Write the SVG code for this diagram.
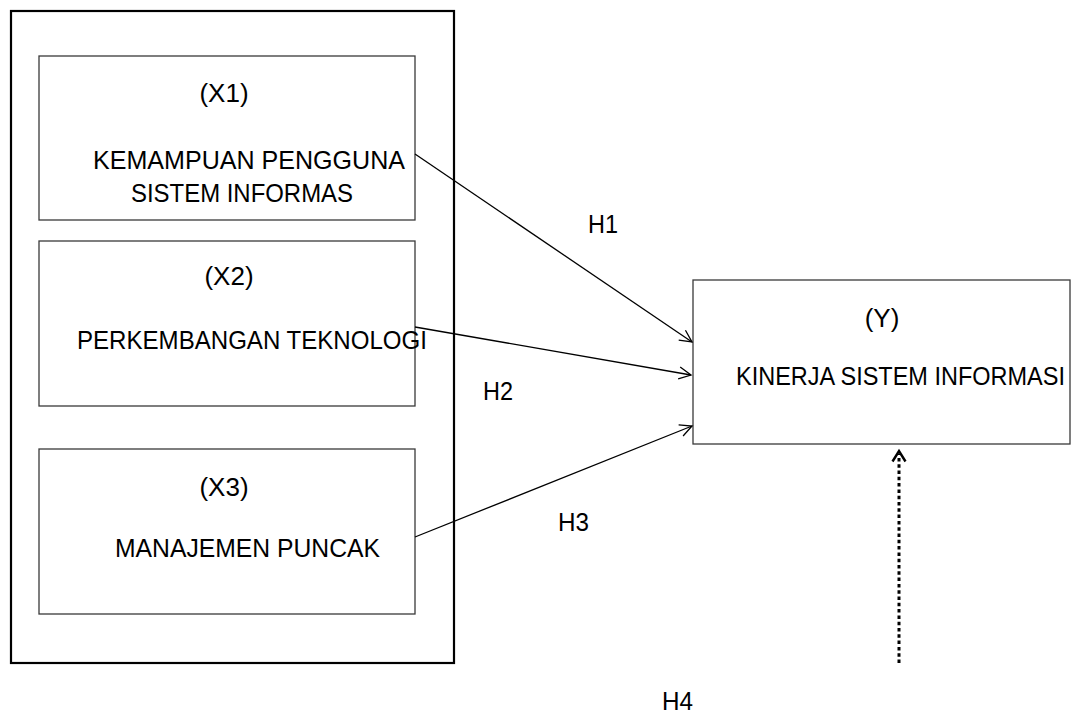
<svg xmlns="http://www.w3.org/2000/svg" width="1076" height="718" viewBox="0 0 1076 718">
<style>
text{font-family:"Liberation Sans",Arial,sans-serif;font-size:26px;fill:#000}
.box{fill:#fff;stroke:#3a3a3a;stroke-width:1.3}
.outer{fill:none;stroke:#000;stroke-width:2.2}
.conn{stroke:#000;stroke-width:1.3;fill:none}
.dot{stroke:#000;stroke-width:3;fill:none;stroke-dasharray:3.5 2.8}
</style>
<defs>
<marker id="arr" markerUnits="userSpaceOnUse" markerWidth="16" markerHeight="16" refX="13" refY="7" orient="auto" viewBox="0 0 16 14">
<path d="M1,1 L13,7 L1,13" fill="none" stroke="#000" stroke-width="1.3"/>
</marker>
<marker id="arr2" markerUnits="userSpaceOnUse" markerWidth="18" markerHeight="18" refX="12" refY="8" orient="auto" viewBox="0 0 18 16">
<path d="M1.5,1.5 L12,8 L1.5,14.5" fill="none" stroke="#000" stroke-width="2.4"/>
</marker>
</defs>
<rect width="1076" height="718" fill="#fff"/>
<g id="outer-group">
<rect class="outer" x="11" y="11" width="443" height="652"/>
</g>
<g id="node-x1">
<rect class="box" x="39" y="56" width="376" height="164"/>
<text x="224" y="102" text-anchor="middle">(X1)</text>
<text x="93" y="169" textLength="312" lengthAdjust="spacingAndGlyphs">KEMAMPUAN PENGGUNA</text>
<text x="131" y="202" textLength="222" lengthAdjust="spacingAndGlyphs">SISTEM INFORMAS</text>
</g>
<g id="node-x2">
<rect class="box" x="39" y="241" width="376" height="165"/>
<text x="229" y="285" text-anchor="middle">(X2)</text>
<text x="77" y="349" textLength="350" lengthAdjust="spacingAndGlyphs">PERKEMBANGAN TEKNOLOGI</text>
</g>
<g id="node-x3">
<rect class="box" x="39" y="449" width="376" height="165"/>
<text x="224" y="496" text-anchor="middle">(X3)</text>
<text x="115" y="557" textLength="265" lengthAdjust="spacingAndGlyphs">MANAJEMEN PUNCAK</text>
</g>
<g id="node-y">
<rect class="box" x="693" y="280" width="377" height="164"/>
<text x="882" y="327" text-anchor="middle">(Y)</text>
<text x="736" y="385" textLength="329" lengthAdjust="spacingAndGlyphs">KINERJA SISTEM INFORMASI</text>
</g>
<g id="connectors">
<line class="conn" x1="415" y1="154" x2="692" y2="342" marker-end="url(#arr)"/>
<line class="conn" x1="415" y1="327" x2="691" y2="375" marker-end="url(#arr)"/>
<line class="conn" x1="415" y1="537" x2="692" y2="426" marker-end="url(#arr)"/>
<line class="dot" x1="899" y1="663" x2="899" y2="454"/>
<line x1="899" y1="663" x2="899" y2="451" stroke="none" marker-end="url(#arr2)"/>
<text x="588" y="233" textLength="30" lengthAdjust="spacingAndGlyphs">H1</text>
<text x="483" y="400" textLength="30" lengthAdjust="spacingAndGlyphs">H2</text>
<text x="558" y="531" textLength="31" lengthAdjust="spacingAndGlyphs">H3</text>
<text x="662" y="710" textLength="31" lengthAdjust="spacingAndGlyphs">H4</text>
</g>
</svg>
